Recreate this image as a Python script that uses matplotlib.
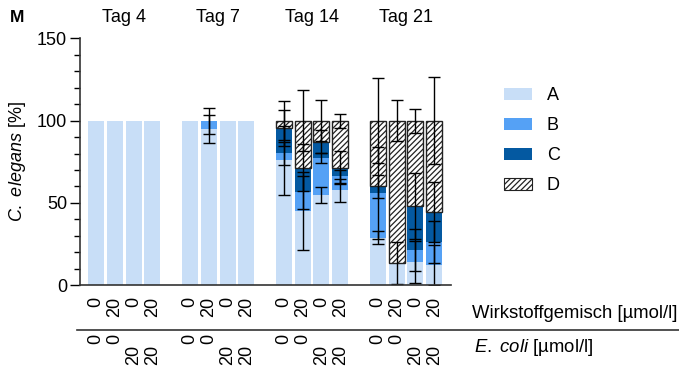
import matplotlib
matplotlib.use('Agg')
import matplotlib.pyplot as plt
import matplotlib.transforms as mtransforms
from matplotlib.patches import Patch
import numpy as np

plt.rcParams['font.family'] = ['Liberation Sans', 'DejaVu Sans']
plt.rcParams['mathtext.fontset'] = 'custom'
plt.rcParams['mathtext.rm'] = 'Liberation Sans'
plt.rcParams['mathtext.it'] = 'Liberation Sans:italic'
plt.rcParams['hatch.linewidth'] = 0.9

# 4 days x 4 conditions, stacked fractions of C. elegans (%)
days = ['Tag 4', 'Tag 7', 'Tag 14', 'Tag 21']
wirkstoff = ['0', '20', '0', '20']
ecoli = ['0', '0', '20', '20']

A = [100, 100, 100, 100,  100, 95, 100, 100,  76, 45, 54.6, 57.7,  28.7, 13.6, 14, 12.1]
B = [0, 0, 0, 0,          0, 5, 0, 0,         4.3, 11.5, 22.7, 8.5, 27.3, 0, 7.2, 14]
C = [0, 0, 0, 0,          0, 0, 0, 0,         15.2, 15, 10, 5.3,   4.1, 0, 26.8, 18.2]
D = [0, 0, 0, 0,          0, 0, 0, 0,         4.5, 28.5, 12.7, 28.5, 39.9, 86.4, 52, 55.7]

A_err = [0, 0, 0, 0,  0, 8.4, 0, 0,  21, 24, 5, 7,     4, 12.7, 12.6, 12]
B_err = [0, 0, 0, 0,  0, 8, 0, 0,    7, 10, 3, 4,      28, 0, 12.6, 12.6]
C_err = [0, 0, 0, 0,  0, 0, 0, 0,    11, 14, 7, 10,    7, 0, 20, 18.4]
D_err = [0, 0, 0, 0,  0, 0, 0, 0,    12, 18.4, 12.6, 4.2, 26, 12.4, 7.3, 26.5]

col_a = '#c8def7'
col_b = '#55a1f5'
col_c = '#0459a1'

x = np.array([g * 5 + i for g in range(4) for i in range(4)], dtype=float)
A = np.array(A); B = np.array(B); C = np.array(C); D = np.array(D)

fig = plt.figure(figsize=(6.79, 3.68), dpi=100)
ax = fig.add_axes([79.5 / 679, 1 - 285 / 368, (450.5 - 79.5) / 679, (285 - 38.5) / 368])

w = 0.85
ax.bar(x, A, w, color=col_a, linewidth=0)
ax.bar(x, B, w, bottom=A, color=col_b, linewidth=0)
ax.bar(x, C, w, bottom=A + B, color=col_c, linewidth=0)
mask = D > 0
ax.bar(x[mask], D[mask], w, bottom=(A + B + C)[mask], facecolor='white',
       edgecolor='#222222', linewidth=1.0, hatch='//////')

tops = [A, A + B, A + B + C, A + B + C + D]
errs = [A_err, B_err, C_err, D_err]
for top, err in zip(tops, errs):
    err = np.array(err)
    m = err > 0
    ax.errorbar(x[m], top[m], yerr=err[m], fmt='none', ecolor='black',
                elinewidth=1.0, capsize=4.5, capthick=1.0)

ax.set_xlim(-0.88, 18.87)
ax.set_ylim(0, 150)
ax.set_yticks([0, 50, 100, 150])
ax.set_yticks(np.arange(0, 151, 10), minor=True)
ax.tick_params(axis='y', which='major', length=7, width=1.0, labelsize=13, pad=2)
ax.tick_params(axis='y', which='minor', length=4, width=1.0)
ax.set_xticks([])
for s in ['top', 'right']:
    ax.spines[s].set_visible(False)
for s in ['left', 'bottom']:
    ax.spines[s].set_linewidth(1.2)
    ax.spines[s].set_color('#333333')

ax.set_ylabel(r'$\it{C.}$ $\it{elegans}$ [%]', fontsize=13, labelpad=6)

# day titles
trans_top = mtransforms.blended_transform_factory(ax.transData, fig.transFigure)
for g, d in enumerate(days):
    ax.text(g * 5 + 1.5, 1 - 18 / 368, d, transform=trans_top, ha='center',
            va='center', fontsize=13)
fig.text(10 / 679, 1 - 18 / 368, 'M', fontsize=12.5, fontweight='bold',
         ha='left', va='center')

# x category labels
for g in range(4):
    for i in range(4):
        xi = g * 5 + i
        ax.text(xi, 1 - 297 / 368, wirkstoff[i], transform=trans_top, rotation=90,
                ha='center', va='top', fontsize=13)
        ytop = 334 if ecoli[i] == '0' else 345
        ax.text(xi, 1 - ytop / 368, ecoli[i], transform=trans_top, rotation=90,
                ha='center', va='top', fontsize=13)

fig.text(472 / 679, 1 - 313 / 368, 'Wirkstoffgemisch [µmol/l]', fontsize=13.3,
         ha='left', va='center')
fig.text(474 / 679, 1 - 347 / 368, r'$\it{E.}$ $\it{coli}$ [µmol/l]', fontsize=13.3,
         ha='left', va='center')
fig.add_artist(plt.Line2D([77 / 679, 1.0], [1 - 330 / 368, 1 - 330 / 368],
                          color='#333333', linewidth=1.2))

handles = [Patch(facecolor=col_a, linewidth=0),
           Patch(facecolor=col_b, linewidth=0),
           Patch(facecolor=col_c, linewidth=0),
           Patch(facecolor='white', edgecolor='#222222', hatch='//////', linewidth=0.8)]
fig.legend(handles, ['A', 'B', 'C', 'D'], loc='upper left',
           bbox_to_anchor=(488 / 679, 1 - 71 / 368), frameon=False, fontsize=13,
           handlelength=1.55, handleheight=0.7, handletextpad=0.8, labelspacing=0.72)

fig.savefig('out.png', dpi=100)
